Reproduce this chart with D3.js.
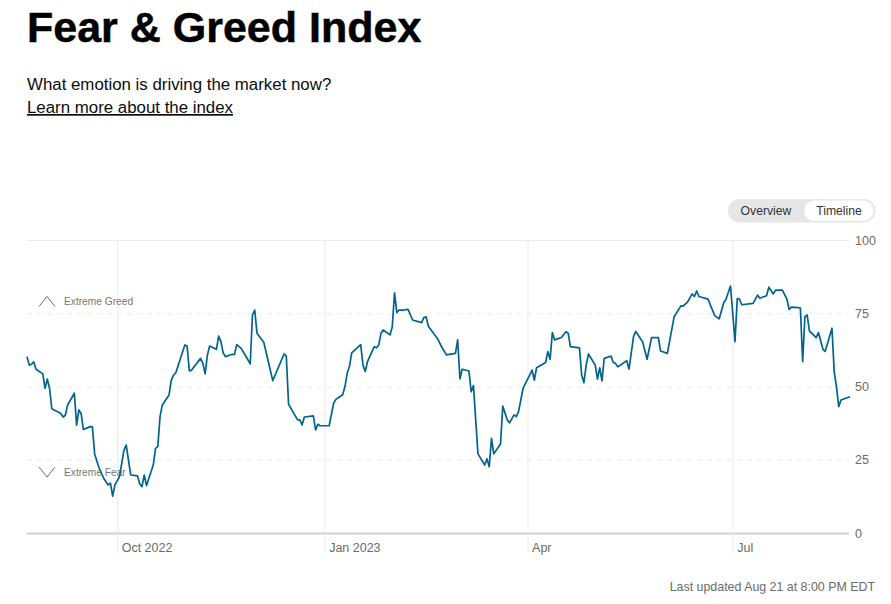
<!DOCTYPE html>
<html>
<head>
<meta charset="utf-8">
<script src="https://d3js.org/d3.v7.min.js"></script>
<style>
    html, body { margin: 0; padding: 0; background: #fff; }
    svg { display: block; font-family: "Liberation Sans", Arial, sans-serif; }
    .axis-y .domain, .axis-x .domain { display: none; }
    .axis-y text, .axis-x text { font-size: 12.5px; fill: #6b6b6b; font-family: "Liberation Sans", Arial, sans-serif; }
</style>
</head>
<body>
<svg id="chart" width="891" height="604"></svg>
<script>
// Days since 22 Aug 2022, and the index reading on that day (turning points)
const dayOffsets = [
    0, 1, 2, 3, 4, 7, 8, 9, 10, 11, 15, 16, 17, 18, 21, 22, 23, 24, 25, 28,
    29, 30, 32, 34, 36, 37, 38, 39, 41, 43, 44, 46, 49, 50, 51, 52, 53, 56, 57, 58,
    59, 60, 63, 64, 65, 66, 70, 71, 72, 73, 77, 78, 79, 80, 81, 84, 85, 86, 87, 88,
    91, 92, 93, 95, 97, 99, 100, 101, 102, 105, 109, 114, 115, 116, 120, 121, 122, 123, 127, 128,
    129, 130, 134, 136, 137, 140, 141, 142, 143, 144, 148, 149, 150, 151, 154, 155, 156, 157, 158, 161,
    162, 163, 164, 165, 167, 169, 171, 175, 176, 177, 178, 182, 184, 186, 190, 191, 192, 193, 196, 197,
    198, 200, 203, 204, 205, 206, 207, 210, 211, 213, 214, 216, 217, 218, 220, 224, 225, 226, 230, 231,
    232, 233, 234, 237, 239, 240, 241, 245, 246, 247, 248, 249, 252, 253, 254, 255, 256, 259, 260, 261,
    262, 266, 267, 269, 270, 273, 275, 277, 280, 281, 284, 287, 290, 291, 293, 295, 296, 297, 298, 302,
    305, 307, 309, 310, 312, 314, 315, 316, 317, 322, 324, 325, 328, 329, 331, 332, 335, 337, 338, 339,
    342, 343, 344, 345, 346, 347, 350, 351, 353, 354, 357, 358, 359, 360, 361, 365
];
const indexValues = [
    60.2, 57.3, 57.6, 58.4, 55.9, 54.3, 49.4, 52.5, 49.4, 42.4, 40.8, 39.6, 40.2, 43.7, 47.7, 36.8, 42, 40.8, 35.3, 36.3,
    36.2, 27, 22.1, 18.7, 16.4, 17, 12.6, 16.4, 19.2, 28.3, 30, 19.8, 19.5, 16.7, 15.8, 19.8, 16.2, 23.2, 28.9, 29.5,
    39.7, 43.7, 47.1, 52.2, 53.9, 54.7, 64.2, 63.8, 55.3, 55.6, 59.6, 57.9, 54.3, 60.7, 63.8, 62.7, 67.2, 65.3, 61.5, 60.2,
    61, 60.9, 64.3, 63, 60.4, 57.7, 74.4, 76.1, 68.2, 65.1, 52, 61.1, 60.4, 44, 38.6, 38.6, 36.9, 39.6, 40, 35.2,
    37.1, 36.6, 36.6, 44.3, 45.6, 47.2, 49.9, 54.5, 56.8, 61.5, 64.3, 57.3, 55.1, 58.5, 63.6, 63.2, 64.2, 68.2, 69.3, 67.6,
    70.4, 82, 75.2, 76.1, 76.1, 76.3, 72.7, 71.8, 73.5, 73.8, 70.6, 66.4, 63.4, 60.8, 61.3, 65.9, 52.6, 55.9, 55.3, 48.2,
    50.3, 27, 23.2, 25.3, 22.6, 32.3, 27, 30.4, 43.3, 38.6, 37.6, 40.3, 39.7, 41.4, 49.4, 55.6, 52.2, 56.4, 58.2, 61.9,
    59.3, 68.4, 65.9, 66.7, 68.7, 68.2, 63.6, 63.2, 53.9, 51.3, 57.3, 61.1, 57.3, 52.5, 56.4, 51.9, 59.6, 60.4, 58.2, 57.9,
    56.7, 58.8, 56, 67, 68.8, 65.3, 59.3, 66.7, 66.7, 62.1, 61.3, 73.8, 77.5, 77.4, 78.9, 81.6, 80.7, 82.6, 80.7, 79.8,
    74.2, 73.1, 78.6, 79.8, 84.3, 65.3, 80, 79.8, 77.9, 78.4, 81.2, 80.1, 81, 83.9, 81.6, 82.9, 82.9, 79.8, 76.3, 77.1,
    76.9, 76.8, 58.5, 73.8, 74.4, 69, 66.7, 68.4, 62.7, 62, 69.9, 55, 49.9, 43.1, 45.4, 46.5
];
const yTicks = [0, 25, 50, 75, 100];
const monthTicks = ['2022-10-01', '2023-01-01', '2023-04-01', '2023-07-01'];
const monthLabels = ['Oct 2022', 'Jan 2023', 'Apr', 'Jul'];
const startDate = new Date(2022, 7, 22);
const endDate = new Date(2023, 7, 22);

const COLOR_LINE = '#00648f';
const COLOR_GRID = '#ebebeb';

const svg = d3.select('#chart');
const plotLeft = 27, plotRight = 849, plotTop = 240, plotBottom = 533;

const parseDay = d3.timeParse('%Y-%m-%d');
const xScale = d3.scaleTime().domain([startDate, endDate]).range([plotLeft, plotRight + 1]);
const yScale = d3.scaleLinear().domain([0, 100]).range([plotBottom, plotTop]);

// Header
svg.append('text').attr('x', 27).attr('y', 42)
    .attr('font-size', 43).attr('font-weight', 700).attr('fill', '#000')
    .attr('stroke', '#000').attr('stroke-width', 0.5)
    .text('Fear & Greed Index');
svg.append('text').attr('x', 27).attr('y', 90)
    .attr('font-size', 16.85).attr('fill', '#0c0c0c')
    .text('What emotion is driving the market now?');
svg.append('text').attr('x', 27).attr('y', 113)
    .attr('font-size', 16.85).attr('fill', '#0c0c0c').attr('text-decoration', 'underline')
    .text('Learn more about the index');

// Overview / Timeline toggle
svg.append('rect').attr('x', 728).attr('y', 199).attr('width', 147.5).attr('height', 23.5).attr('rx', 11.75)
    .attr('fill', '#e6e6e6');
svg.append('rect').attr('x', 804).attr('y', 200.5).attr('width', 69.5).attr('height', 20.5).attr('rx', 10.25)
    .attr('fill', '#fff');
svg.append('text').attr('x', 766).attr('y', 215).attr('text-anchor', 'middle')
    .attr('font-size', 12.2).attr('fill', '#333').text('Overview');
svg.append('text').attr('x', 839).attr('y', 215).attr('text-anchor', 'middle')
    .attr('font-size', 12.2).attr('fill', '#333').text('Timeline');

// Horizontal grid
svg.append('g').selectAll('line').data(yTicks).join('line')
    .attr('x1', plotLeft).attr('x2', plotRight)
    .attr('y1', (t) => yScale(t) + 0.5).attr('y2', (t) => yScale(t) + 0.5)
    .attr('stroke', (t) => t === 0 ? '#cfcfcf' : COLOR_GRID)
    .attr('stroke-width', (t) => t === 0 ? 2 : 1)
    .attr('stroke-dasharray', (t) => (t === 0 || t === 100) ? null : '5,5');

// Axes
const xAxis = d3.axisBottom(xScale)
    .tickValues(monthTicks.map(parseDay))
    .tickSize(0)
    .tickFormat((d, i) => monthLabels[i]);
const gx = svg.append('g').attr('class', 'axis-x').attr('transform', `translate(0,${plotBottom})`).call(xAxis);
gx.selectAll('.tick line').attr('y1', plotTop - plotBottom).attr('y2', 20).attr('stroke', COLOR_GRID);
gx.selectAll('.tick text').attr('text-anchor', 'start').attr('x', 4).attr('y', 10).attr('dy', '0.71em');

const yAxis = d3.axisRight(yScale).tickValues(yTicks).tickSize(0).tickPadding(6);
svg.append('g').attr('class', 'axis-y').attr('transform', `translate(${plotRight},0)`).call(yAxis);

// Extreme zone markers
const zones = [
    { label: 'Extreme Greed', value: 79, dir: -1 },
    { label: 'Extreme Fear', value: 20.8, dir: 1 }
];
const zone = svg.append('g').selectAll('g').data(zones).join('g')
    .attr('transform', (z) => `translate(47,${yScale(z.value)})`);
zone.append('path')
    .attr('d', (z) => `M-8,${-5 * z.dir}L0,${5 * z.dir}L8,${-5 * z.dir}`)
    .attr('fill', 'none').attr('stroke', '#6b6b6b').attr('stroke-width', 1);
zone.append('text').attr('x', 17).attr('y', 3.5)
    .attr('font-size', 10.2).attr('fill', '#777')
    .text((z) => z.label);

// Index line
const points = d3.zip(dayOffsets, indexValues);
const indexLine = d3.line()
    .x((p) => xScale(d3.timeDay.offset(startDate, p[0])))
    .y((p) => yScale(p[1]));
svg.append('path').datum(points)
    .attr('d', indexLine)
    .attr('fill', 'none')
    .attr('stroke', COLOR_LINE)
    .attr('stroke-width', 1.7)
    .attr('stroke-linejoin', 'round');

// Footer
svg.append('text').attr('x', 875).attr('y', 591).attr('text-anchor', 'end')
    .attr('font-size', 12.4).attr('fill', '#6b6b6b')
    .text('Last updated Aug 21 at 8:00 PM EDT');
</script>
</body>
</html>
